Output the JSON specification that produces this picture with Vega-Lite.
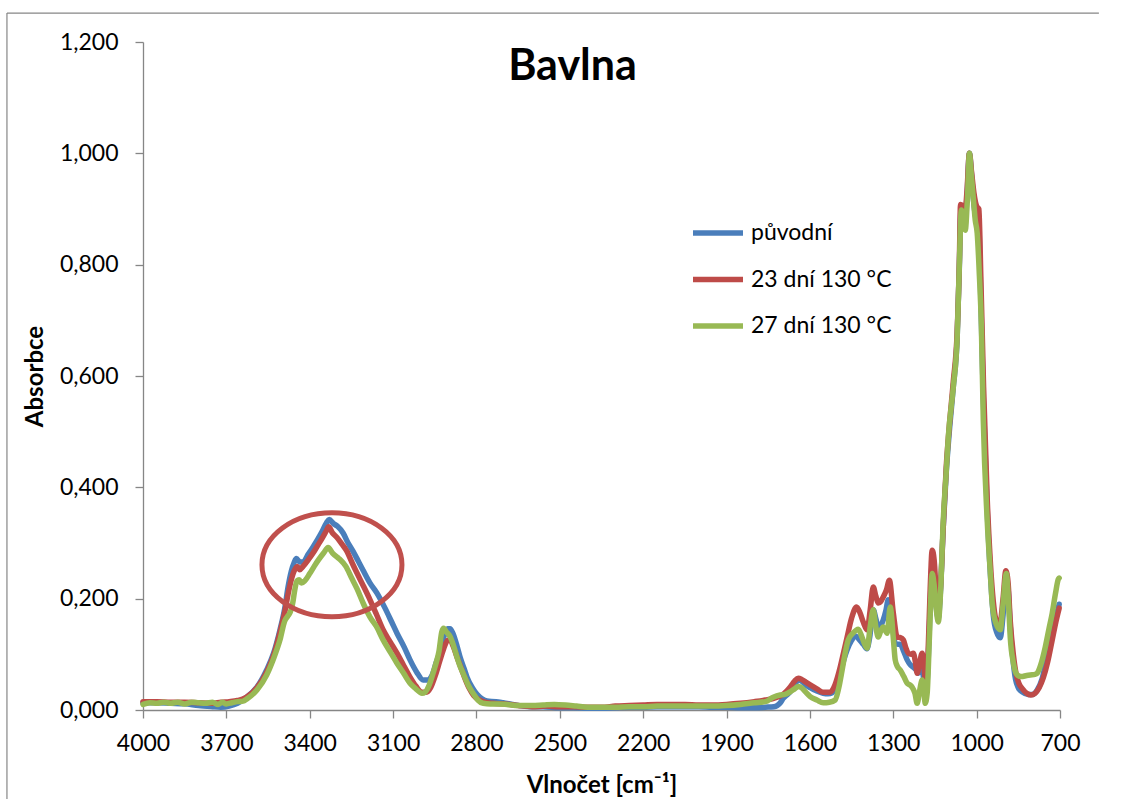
{
  "$schema": "https://vega.github.io/schema/vega-lite/v6.json",
  "width": 917,
  "height": 668,
  "autosize": {"type": "none"},
  "padding": {"left": 143, "top": 42, "right": 69, "bottom": 91},
  "background": "white",
  "title": {"text": "Bavlna", "anchor": "middle", "dx": -29, "dy": 81, "font": "Lato", "fontSize": 43, "fontWeight": "bold", "color": "#000000"},
  "datasets": {
    "puvodni": [
      {"x":4000,"y":0.013},{"x":3950,"y":0.013},{"x":3900,"y":0.012},{"x":3850,"y":0.011},{"x":3800,"y":0.008},{"x":3750,"y":0.006},{"x":3720,"y":0.005},{"x":3690,"y":0.007},{"x":3660,"y":0.012},{"x":3630,"y":0.022},{"x":3590,"y":0.041},{"x":3555,"y":0.072},{"x":3530,"y":0.102},{"x":3507,"y":0.144},{"x":3489,"y":0.185},{"x":3478,"y":0.221},{"x":3466,"y":0.25},{"x":3456,"y":0.265},{"x":3448,"y":0.272},{"x":3436,"y":0.266},{"x":3424,"y":0.266},{"x":3405,"y":0.28},{"x":3388,"y":0.293},{"x":3372,"y":0.306},{"x":3356,"y":0.32},{"x":3340,"y":0.336},{"x":3330,"y":0.342},{"x":3315,"y":0.335},{"x":3300,"y":0.33},{"x":3280,"y":0.318},{"x":3262,"y":0.3},{"x":3244,"y":0.285},{"x":3226,"y":0.268},{"x":3208,"y":0.251},{"x":3183,"y":0.228},{"x":3158,"y":0.21},{"x":3129,"y":0.183},{"x":3105,"y":0.158},{"x":3086,"y":0.138},{"x":3060,"y":0.113},{"x":3039,"y":0.09},{"x":3015,"y":0.068},{"x":2992,"y":0.054},{"x":2975,"y":0.054},{"x":2960,"y":0.062},{"x":2945,"y":0.085},{"x":2931,"y":0.105},{"x":2915,"y":0.135},{"x":2904,"y":0.146},{"x":2895,"y":0.146},{"x":2885,"y":0.138},{"x":2870,"y":0.115},{"x":2859,"y":0.095},{"x":2845,"y":0.075},{"x":2834,"y":0.059},{"x":2815,"y":0.04},{"x":2798,"y":0.028},{"x":2780,"y":0.02},{"x":2762,"y":0.016},{"x":2730,"y":0.015},{"x":2704,"y":0.013},{"x":2660,"y":0.009},{"x":2607,"y":0.006},{"x":2560,"y":0.006},{"x":2500,"y":0.004},{"x":2450,"y":0.004},{"x":2400,"y":0.003},{"x":2350,"y":0.003},{"x":2300,"y":0.004},{"x":2250,"y":0.005},{"x":2200,"y":0.005},{"x":2150,"y":0.006},{"x":2100,"y":0.006},{"x":2050,"y":0.006},{"x":2000,"y":0.006},{"x":1950,"y":0.005},{"x":1900,"y":0.005},{"x":1850,"y":0.004},{"x":1800,"y":0.004},{"x":1760,"y":0.005},{"x":1730,"y":0.006},{"x":1718,"y":0.008},{"x":1705,"y":0.014},{"x":1696,"y":0.021},{"x":1683,"y":0.027},{"x":1671,"y":0.033},{"x":1655,"y":0.045},{"x":1642,"y":0.054},{"x":1630,"y":0.052},{"x":1615,"y":0.045},{"x":1599,"y":0.04},{"x":1575,"y":0.034},{"x":1552,"y":0.03},{"x":1535,"y":0.029},{"x":1520,"y":0.031},{"x":1505,"y":0.045},{"x":1491,"y":0.066},{"x":1478,"y":0.09},{"x":1466,"y":0.108},{"x":1450,"y":0.125},{"x":1437,"y":0.133},{"x":1420,"y":0.125},{"x":1408,"y":0.118},{"x":1395,"y":0.11},{"x":1385,"y":0.13},{"x":1372,"y":0.18},{"x":1363,"y":0.165},{"x":1354,"y":0.149},{"x":1345,"y":0.152},{"x":1336,"y":0.162},{"x":1326,"y":0.18},{"x":1318,"y":0.198},{"x":1305,"y":0.16},{"x":1293,"y":0.12},{"x":1283,"y":0.118},{"x":1275,"y":0.118},{"x":1262,"y":0.105},{"x":1250,"y":0.09},{"x":1240,"y":0.082},{"x":1228,"y":0.077},{"x":1218,"y":0.072},{"x":1210,"y":0.066},{"x":1203,"y":0.07},{"x":1196,"y":0.072},{"x":1188,"y":0.045},{"x":1182,"y":0.03},{"x":1175,"y":0.08},{"x":1167,"y":0.19},{"x":1160,"y":0.262},{"x":1153,"y":0.245},{"x":1145,"y":0.185},{"x":1138,"y":0.165},{"x":1130,"y":0.215},{"x":1120,"y":0.33},{"x":1109,"y":0.43},{"x":1100,"y":0.49},{"x":1084,"y":0.58},{"x":1070,"y":0.67},{"x":1062,"y":0.8},{"x":1057,"y":0.895},{"x":1052,"y":0.9},{"x":1043,"y":0.88},{"x":1035,"y":0.92},{"x":1026,"y":1.0},{"x":1018,"y":0.96},{"x":1010,"y":0.91},{"x":1000,"y":0.88},{"x":994,"y":0.89},{"x":986,"y":0.76},{"x":976,"y":0.56},{"x":962,"y":0.36},{"x":950,"y":0.24},{"x":940,"y":0.17},{"x":928,"y":0.14},{"x":915,"y":0.13},{"x":905,"y":0.17},{"x":895,"y":0.235},{"x":888,"y":0.225},{"x":879,"y":0.15},{"x":870,"y":0.095},{"x":860,"y":0.055},{"x":850,"y":0.04},{"x":835,"y":0.032},{"x":815,"y":0.028},{"x":800,"y":0.028},{"x":782,"y":0.036},{"x":765,"y":0.055},{"x":753,"y":0.08},{"x":740,"y":0.105},{"x":728,"y":0.135},{"x":715,"y":0.165},{"x":703,"y":0.19}
    ],
    "d23": [
      {"x":4000,"y":0.015},{"x":3950,"y":0.015},{"x":3900,"y":0.014},{"x":3850,"y":0.014},{"x":3800,"y":0.013},{"x":3750,"y":0.012},{"x":3720,"y":0.014},{"x":3690,"y":0.015},{"x":3660,"y":0.017},{"x":3630,"y":0.022},{"x":3590,"y":0.04},{"x":3555,"y":0.068},{"x":3530,"y":0.098},{"x":3507,"y":0.14},{"x":3489,"y":0.178},{"x":3478,"y":0.208},{"x":3466,"y":0.235},{"x":3456,"y":0.25},{"x":3445,"y":0.258},{"x":3436,"y":0.252},{"x":3424,"y":0.258},{"x":3405,"y":0.27},{"x":3388,"y":0.282},{"x":3372,"y":0.295},{"x":3356,"y":0.308},{"x":3340,"y":0.322},{"x":3332,"y":0.329},{"x":3318,"y":0.318},{"x":3302,"y":0.31},{"x":3284,"y":0.298},{"x":3266,"y":0.285},{"x":3248,"y":0.265},{"x":3230,"y":0.246},{"x":3206,"y":0.222},{"x":3183,"y":0.198},{"x":3160,"y":0.172},{"x":3136,"y":0.144},{"x":3110,"y":0.122},{"x":3086,"y":0.102},{"x":3062,"y":0.08},{"x":3039,"y":0.059},{"x":3018,"y":0.043},{"x":2996,"y":0.032},{"x":2980,"y":0.032},{"x":2965,"y":0.04},{"x":2948,"y":0.062},{"x":2932,"y":0.088},{"x":2918,"y":0.11},{"x":2904,"y":0.125},{"x":2895,"y":0.126},{"x":2884,"y":0.115},{"x":2870,"y":0.095},{"x":2855,"y":0.075},{"x":2840,"y":0.055},{"x":2825,"y":0.038},{"x":2810,"y":0.026},{"x":2790,"y":0.018},{"x":2770,"y":0.014},{"x":2740,"y":0.012},{"x":2700,"y":0.011},{"x":2650,"y":0.008},{"x":2600,"y":0.006},{"x":2550,"y":0.007},{"x":2500,"y":0.006},{"x":2450,"y":0.006},{"x":2400,"y":0.005},{"x":2350,"y":0.005},{"x":2300,"y":0.007},{"x":2250,"y":0.008},{"x":2200,"y":0.009},{"x":2150,"y":0.01},{"x":2100,"y":0.01},{"x":2050,"y":0.01},{"x":2000,"y":0.009},{"x":1950,"y":0.009},{"x":1900,"y":0.01},{"x":1850,"y":0.012},{"x":1800,"y":0.015},{"x":1760,"y":0.018},{"x":1730,"y":0.021},{"x":1700,"y":0.027},{"x":1670,"y":0.042},{"x":1655,"y":0.052},{"x":1642,"y":0.057},{"x":1630,"y":0.055},{"x":1615,"y":0.05},{"x":1599,"y":0.045},{"x":1575,"y":0.038},{"x":1552,"y":0.032},{"x":1527,"y":0.032},{"x":1510,"y":0.045},{"x":1491,"y":0.077},{"x":1478,"y":0.105},{"x":1466,"y":0.131},{"x":1450,"y":0.165},{"x":1432,"y":0.185},{"x":1420,"y":0.175},{"x":1408,"y":0.158},{"x":1394,"y":0.144},{"x":1383,"y":0.18},{"x":1372,"y":0.221},{"x":1363,"y":0.205},{"x":1354,"y":0.192},{"x":1345,"y":0.195},{"x":1336,"y":0.203},{"x":1325,"y":0.215},{"x":1314,"y":0.233},{"x":1300,"y":0.175},{"x":1286,"y":0.131},{"x":1275,"y":0.13},{"x":1264,"y":0.126},{"x":1255,"y":0.112},{"x":1246,"y":0.102},{"x":1236,"y":0.1},{"x":1228,"y":0.102},{"x":1220,"y":0.085},{"x":1214,"y":0.066},{"x":1205,"y":0.085},{"x":1196,"y":0.102},{"x":1189,"y":0.075},{"x":1183,"y":0.045},{"x":1175,"y":0.1},{"x":1167,"y":0.22},{"x":1160,"y":0.287},{"x":1153,"y":0.27},{"x":1145,"y":0.21},{"x":1138,"y":0.178},{"x":1130,"y":0.22},{"x":1120,"y":0.33},{"x":1109,"y":0.44},{"x":1100,"y":0.5},{"x":1084,"y":0.59},{"x":1070,"y":0.68},{"x":1062,"y":0.81},{"x":1058,"y":0.908},{"x":1050,"y":0.905},{"x":1043,"y":0.89},{"x":1035,"y":0.93},{"x":1026,"y":1.0},{"x":1018,"y":0.965},{"x":1010,"y":0.93},{"x":1000,"y":0.905},{"x":992,"y":0.9},{"x":985,"y":0.78},{"x":975,"y":0.58},{"x":962,"y":0.38},{"x":950,"y":0.26},{"x":940,"y":0.195},{"x":928,"y":0.16},{"x":915,"y":0.16},{"x":905,"y":0.2},{"x":895,"y":0.25},{"x":887,"y":0.23},{"x":879,"y":0.16},{"x":868,"y":0.1},{"x":858,"y":0.065},{"x":848,"y":0.048},{"x":835,"y":0.038},{"x":820,"y":0.03},{"x":805,"y":0.027},{"x":790,"y":0.03},{"x":775,"y":0.04},{"x":760,"y":0.058},{"x":745,"y":0.085},{"x":728,"y":0.126},{"x":715,"y":0.158},{"x":703,"y":0.183}
    ],
    "d27": [
      {"x":4000,"y":0.01},{"x":3975,"y":0.013},{"x":3950,"y":0.012},{"x":3925,"y":0.014},{"x":3900,"y":0.012},{"x":3875,"y":0.014},{"x":3850,"y":0.011},{"x":3825,"y":0.014},{"x":3800,"y":0.013},{"x":3775,"y":0.012},{"x":3750,"y":0.014},{"x":3730,"y":0.01},{"x":3715,"y":0.014},{"x":3700,"y":0.011},{"x":3680,"y":0.013},{"x":3660,"y":0.015},{"x":3640,"y":0.016},{"x":3626,"y":0.02},{"x":3590,"y":0.036},{"x":3555,"y":0.063},{"x":3532,"y":0.09},{"x":3507,"y":0.126},{"x":3490,"y":0.16},{"x":3480,"y":0.168},{"x":3470,"y":0.176},{"x":3462,"y":0.19},{"x":3454,"y":0.215},{"x":3446,"y":0.232},{"x":3438,"y":0.234},{"x":3430,"y":0.228},{"x":3418,"y":0.232},{"x":3400,"y":0.245},{"x":3384,"y":0.258},{"x":3368,"y":0.27},{"x":3350,"y":0.282},{"x":3334,"y":0.292},{"x":3318,"y":0.282},{"x":3300,"y":0.274},{"x":3290,"y":0.27},{"x":3270,"y":0.258},{"x":3250,"y":0.238},{"x":3230,"y":0.218},{"x":3206,"y":0.19},{"x":3183,"y":0.167},{"x":3160,"y":0.15},{"x":3136,"y":0.126},{"x":3110,"y":0.104},{"x":3086,"y":0.084},{"x":3062,"y":0.066},{"x":3039,"y":0.048},{"x":3018,"y":0.038},{"x":2996,"y":0.03},{"x":2985,"y":0.032},{"x":2970,"y":0.045},{"x":2955,"y":0.068},{"x":2945,"y":0.085},{"x":2935,"y":0.105},{"x":2925,"y":0.14},{"x":2918,"y":0.147},{"x":2908,"y":0.14},{"x":2895,"y":0.132},{"x":2884,"y":0.118},{"x":2870,"y":0.095},{"x":2860,"y":0.08},{"x":2848,"y":0.066},{"x":2830,"y":0.045},{"x":2812,"y":0.03},{"x":2795,"y":0.018},{"x":2776,"y":0.012},{"x":2750,"y":0.011},{"x":2720,"y":0.011},{"x":2690,"y":0.01},{"x":2650,"y":0.008},{"x":2600,"y":0.008},{"x":2560,"y":0.009},{"x":2520,"y":0.01},{"x":2480,"y":0.009},{"x":2440,"y":0.007},{"x":2400,"y":0.005},{"x":2350,"y":0.005},{"x":2300,"y":0.005},{"x":2250,"y":0.006},{"x":2200,"y":0.006},{"x":2150,"y":0.007},{"x":2100,"y":0.007},{"x":2050,"y":0.007},{"x":2000,"y":0.007},{"x":1950,"y":0.007},{"x":1900,"y":0.008},{"x":1850,"y":0.01},{"x":1800,"y":0.013},{"x":1760,"y":0.015},{"x":1732,"y":0.023},{"x":1707,"y":0.027},{"x":1690,"y":0.028},{"x":1670,"y":0.033},{"x":1655,"y":0.038},{"x":1642,"y":0.042},{"x":1630,"y":0.04},{"x":1615,"y":0.032},{"x":1599,"y":0.024},{"x":1575,"y":0.018},{"x":1552,"y":0.013},{"x":1530,"y":0.014},{"x":1509,"y":0.018},{"x":1496,"y":0.04},{"x":1484,"y":0.072},{"x":1472,"y":0.105},{"x":1462,"y":0.126},{"x":1445,"y":0.138},{"x":1426,"y":0.145},{"x":1412,"y":0.13},{"x":1400,"y":0.115},{"x":1394,"y":0.111},{"x":1383,"y":0.15},{"x":1372,"y":0.18},{"x":1363,"y":0.15},{"x":1354,"y":0.131},{"x":1345,"y":0.142},{"x":1336,"y":0.149},{"x":1322,"y":0.138},{"x":1311,"y":0.185},{"x":1300,"y":0.13},{"x":1293,"y":0.09},{"x":1285,"y":0.078},{"x":1275,"y":0.072},{"x":1262,"y":0.06},{"x":1250,"y":0.048},{"x":1240,"y":0.045},{"x":1232,"y":0.041},{"x":1222,"y":0.03},{"x":1214,"y":0.012},{"x":1205,"y":0.035},{"x":1196,"y":0.054},{"x":1190,"y":0.035},{"x":1185,"y":0.012},{"x":1178,"y":0.03},{"x":1170,"y":0.13},{"x":1160,"y":0.245},{"x":1153,"y":0.225},{"x":1145,"y":0.18},{"x":1138,"y":0.158},{"x":1130,"y":0.21},{"x":1120,"y":0.341},{"x":1109,"y":0.431},{"x":1102,"y":0.49},{"x":1084,"y":0.58},{"x":1070,"y":0.67},{"x":1062,"y":0.803},{"x":1055,"y":0.898},{"x":1048,"y":0.88},{"x":1041,"y":0.862},{"x":1033,"y":0.92},{"x":1026,"y":1.0},{"x":1019,"y":0.96},{"x":1012,"y":0.92},{"x":1005,"y":0.88},{"x":998,"y":0.857},{"x":990,"y":0.78},{"x":983,"y":0.69},{"x":976,"y":0.52},{"x":962,"y":0.341},{"x":950,"y":0.24},{"x":944,"y":0.192},{"x":930,"y":0.155},{"x":915,"y":0.144},{"x":905,"y":0.19},{"x":893,"y":0.245},{"x":886,"y":0.2},{"x":879,"y":0.13},{"x":868,"y":0.085},{"x":860,"y":0.068},{"x":854,"y":0.063},{"x":840,"y":0.06},{"x":820,"y":0.062},{"x":807,"y":0.063},{"x":790,"y":0.064},{"x":782,"y":0.066},{"x":770,"y":0.08},{"x":753,"y":0.113},{"x":740,"y":0.145},{"x":728,"y":0.174},{"x":716,"y":0.21},{"x":706,"y":0.235},{"x":703,"y":0.237}
    ]
  },
  "layer": [
    {
      "data": {"values": [{}]},
      "mark": {"type": "rule", "stroke": "#868686", "strokeWidth": 1.2},
      "encoding": {
        "x": {"datum": 4489.6, "type": "quantitative", "title": "Vlnočet [cm⁻¹]"},
        "y": {"datum": 1.252, "type": "quantitative", "title": "Absorbce"},
        "y2": {"datum": -0.16}
      }
    },
    {
      "data": {"values": [{}]},
      "mark": {"type": "rule", "stroke": "#868686", "strokeWidth": 1.2},
      "encoding": {
        "x": {"datum": 4489.6, "type": "quantitative", "title": "Vlnočet [cm⁻¹]"},
        "x2": {"datum": 560},
        "y": {"datum": 1.252, "type": "quantitative", "title": "Absorbce"}
      }
    },
    {
      "encoding": {
        "x": {
          "field": "x", "type": "quantitative",
          "scale": {"domain": [700, 4000], "reverse": true, "nice": false, "zero": false},
          "axis": {
            "title": "Vlnočet [cm⁻¹]",
            "values": [4000, 3700, 3400, 3100, 2800, 2500, 2200, 1900, 1600, 1300, 1000, 700],
            "format": "d",
            "grid": false,
            "labelFlush": false
          }
        },
        "y": {
          "field": "y", "type": "quantitative",
          "scale": {"domain": [0, 1.2], "nice": false},
          "axis": {
            "title": "Absorbce",
            "values": [0, 0.2, 0.4, 0.6, 0.8, 1.0, 1.2],
            "labelExpr": "replace(format(datum.value, '.3f'), '.', ',')",
            "grid": false
          }
        }
      },
      "layer": [
        {
          "data": {"name": "puvodni"},
          "mark": {"type": "line", "interpolate": "monotone", "strokeWidth": 5.5, "strokeCap": "round", "strokeJoin": "round"},
          "encoding": {"color": {"datum": "původní"}}
        },
        {
          "data": {"name": "d23"},
          "mark": {"type": "line", "interpolate": "monotone", "strokeWidth": 5.5, "strokeCap": "round", "strokeJoin": "round"},
          "encoding": {"color": {"datum": "23 dní 130 °C"}}
        },
        {
          "data": {"name": "d27"},
          "mark": {"type": "line", "interpolate": "monotone", "strokeWidth": 5.5, "strokeCap": "round", "strokeJoin": "round"},
          "encoding": {
            "color": {
              "datum": "27 dní 130 °C",
              "scale": {"domain": ["původní", "23 dní 130 °C", "27 dní 130 °C"], "range": ["#4A7EBB", "#BE4B48", "#98B954"]},
              "legend": {
                "title": null,
                "orient": "none",
                "legendX": 562,
                "legendY": 178,
                "padding": 0,
                "symbolType": "M -2.5 0 L 2.5 0",
                "symbolSize": 400,
                "symbolStrokeWidth": 5.5,
                "symbolStrokeColor": null,
                "symbolFillColor": null,
                "labelOffset": 20,
                "labelFont": "Lato",
                "labelFontSize": 23,
                "labelColor": "#000000",
                "labelLimit": 400,
                "rowPadding": 21.5
              }
            }
          }
        }
      ]
    },
    {
      "data": {"values": [{}]},
      "mark": {
        "type": "point",
        "shape": "M -1 0 A 1 0.743 0 1 0 1 0 A 1 0.743 0 1 0 -1 0 Z",
        "size": 19600,
        "filled": false,
        "stroke": "#C0504D",
        "strokeWidth": 5,
        "opacity": 1
      },
      "encoding": {
        "x": {"datum": 3320, "type": "quantitative", "title": "Vlnočet [cm⁻¹]"},
        "y": {"datum": 0.261, "type": "quantitative", "title": "Absorbce"}
      }
    }
  ],
  "config": {
    "view": {"stroke": null},
    "axis": {
      "domainColor": "#868686",
      "domainWidth": 1.3,
      "tickColor": "#868686",
      "tickWidth": 1.3,
      "tickSize": 8,
      "labelFont": "Lato",
      "labelFontSize": 23,
      "labelColor": "#000000",
      "titleFont": "Lato",
      "titleFontSize": 24,
      "titleFontWeight": "bold",
      "titleColor": "#000000"
    },
    "axisX": {"labelPadding": 14, "titlePadding": 18},
    "axisY": {"labelPadding": 17, "titlePadding": 12}
  }
}
